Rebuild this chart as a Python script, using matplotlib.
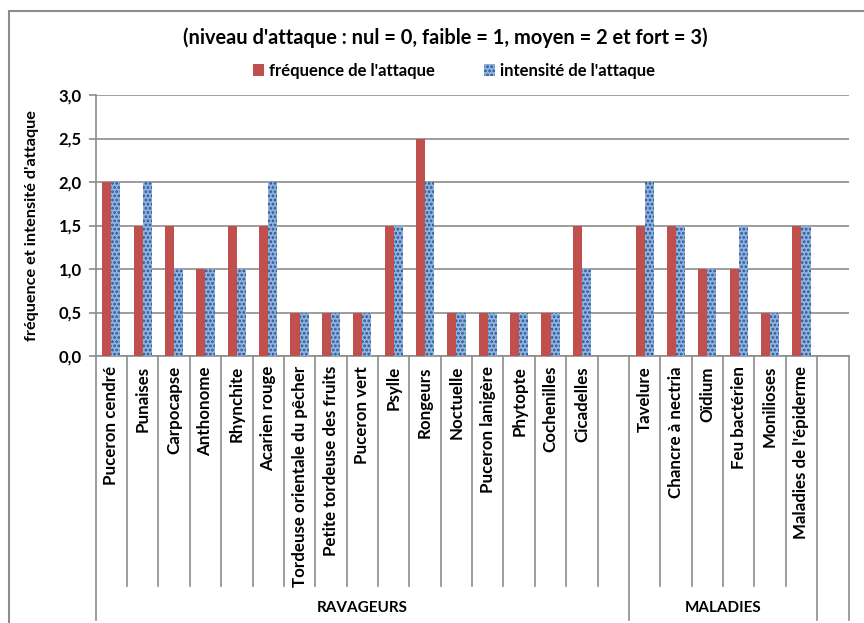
import numpy as np
import matplotlib
matplotlib.use("Agg")
import matplotlib.pyplot as plt
import matplotlib.transforms as mtransforms
from matplotlib.patches import Patch, Rectangle
from matplotlib.lines import Line2D

plt.rcParams['font.family'] = ['Lato', 'DejaVu Sans']
plt.rcParams['hatch.linewidth'] = 1.3

# ---- data -------------------------------------------------------------
categories = [
    "Puceron cendré", "Punaises", "Carpocapse", "Anthonome", "Rhynchite",
    "Acarien rouge", "Tordeuse orientale du pêcher", "Petite tordeuse des fruits",
    "Puceron vert", "Psylle", "Rongeurs", "Noctuelle", "Puceron lanigère",
    "Phytopte", "Cochenilles", "Cicadelles", "",
    "Tavelure", "Chancre à nectria", "Oïdium", "Feu bactérien", "Monilioses",
    "Maladies de l'épiderme", "",
]
group_names = ["RAVAGEURS", "MALADIES", ""]
group_sizes = [17, 6, 1]

frequence = [2.0, 1.5, 1.5, 1.0, 1.5, 1.5, 0.5, 0.5, 0.5, 1.5, 2.5, 0.5, 0.5,
             0.5, 0.5, 1.5, None,
             1.5, 1.5, 1.0, 1.0, 0.5, 1.5, None]
intensite = [2.0, 2.0, 1.0, 1.0, 1.0, 2.0, 0.5, 0.5, 0.5, 1.5, 2.0, 0.5, 0.5,
             0.5, 0.5, 1.0, None,
             2.0, 1.5, 1.0, 1.5, 0.5, 1.5, None]
y_ticks = [0.0, 0.5, 1.0, 1.5, 2.0, 2.5, 3.0]

title = "(niveau d'attaque : nul = 0, faible = 1, moyen = 2 et fort = 3)"
series_labels = ["fréquence de l'attaque", "intensité de l'attaque"]
y_label = "fréquence et intensité d'attaque"

# ---- styling ----------------------------------------------------------
W, H = 864, 623
RED = "#C0504D"
BLUE_FACE = "#8FB2DF"
BLUE_DOTS = "#2A5590"
GREY = "#8C8C8C"

fig = plt.figure(figsize=(W / 100, H / 100), dpi=100)
fig.patch.set_facecolor("white")

def fx(px):
    return px / W

def fy(py):
    return (H - py) / H

ax_left, ax_right, ax_top, ax_bottom = 95.7, 848.5, 95.0, 356.0
ax = fig.add_axes([fx(ax_left), fy(ax_bottom),
                   fx(ax_right - ax_left), (ax_bottom - ax_top) / H])

n = len(categories)
x = np.arange(n) + 0.5
bw = 0.29
freq = np.array([np.nan if v is None else v for v in frequence], dtype=float)
inte = np.array([np.nan if v is None else v for v in intensite], dtype=float)

ax.bar(x - bw / 2, freq, bw, color=RED, linewidth=0, zorder=3)
ax.bar(x + bw / 2, inte, bw, facecolor=BLUE_FACE, edgecolor=BLUE_DOTS,
       hatch="....", linewidth=0, zorder=3)

ax.set_xlim(0, n)
ax.set_ylim(0, 3.0)
ax.set_yticks(y_ticks)
ax.set_yticklabels([f"{v:.1f}".replace(".", ",") for v in y_ticks],
                   fontsize=12, fontweight="bold")
ax.tick_params(axis="y", length=5, width=1.2, color=GREY, pad=5)
ax.set_xticks([])
ax.grid(axis="y", color=GREY, linewidth=1.2, zorder=0)
ax.set_axisbelow(True)
for side in ("top", "right"):
    ax.spines[side].set_visible(False)
for side in ("left", "bottom"):
    ax.spines[side].set_color(GREY)
    ax.spines[side].set_linewidth(1.2)

ax.set_ylabel(y_label, fontsize=11.7, fontweight="bold", labelpad=14)

# ---- multi-level category axis -----------------------------------------
trans = mtransforms.blended_transform_factory(ax.transData, fig.transFigure)
sep_short = fy(586)
sep_long = fy(620)
group_edges = np.cumsum([0] + group_sizes)
for i in range(n + 1):
    bottom = sep_long if i in group_edges else sep_short
    ax.add_line(Line2D([i, i], [fy(ax_bottom), bottom], transform=trans,
                       color=GREY, linewidth=1.2, clip_on=False))

for xi, lab in zip(x, categories):
    if lab:
        ax.text(xi, fy(366), lab, rotation=90, ha="center", va="top",
                fontsize=12.2, fontweight="bold", transform=trans)

for name, a, b in zip(group_names, group_edges[:-1], group_edges[1:]):
    if name:
        ax.text((a + b) / 2, fy(608), name, ha="center", va="center",
                fontsize=11, fontweight="bold", transform=trans)

# ---- title & legend ---------------------------------------------------
fig.text(fx(445), fy(38), title, ha="center", va="center",
         fontsize=14.4, fontweight="bold")

handles = [Patch(facecolor=RED, linewidth=0),
           Patch(facecolor=BLUE_FACE, edgecolor=BLUE_DOTS, hatch="....",
                 linewidth=0)]
fig.legend(handles, series_labels, loc="center", bbox_to_anchor=(fx(454), fy(71)),
           ncol=2, frameon=False, prop={"size": 12, "weight": "bold"},
           handlelength=0.7, handleheight=0.7, handletextpad=0.3,
           columnspacing=2.9)

# ---- chart frame ------------------------------------------------------
fig.add_artist(Rectangle((fx(8.5), -0.05), 1.2, fy(10.5) + 0.05,
                         transform=fig.transFigure, fill=False,
                         edgecolor=GREY, linewidth=1.5, clip_on=False))

fig.savefig("out.png", dpi=100)
